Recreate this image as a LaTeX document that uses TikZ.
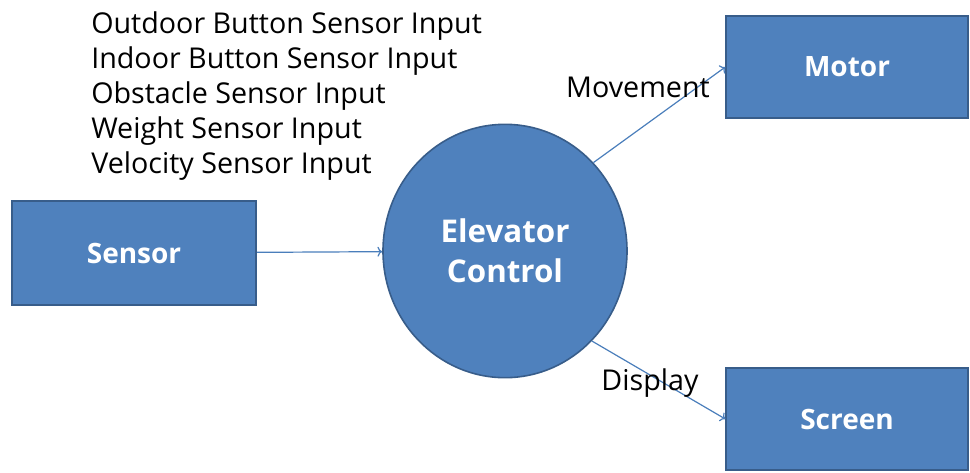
\documentclass[tikz,border=0pt]{standalone}
\usepackage{fontspec}
\setmainfont{Open Sans}
\usetikzlibrary{shapes.geometric, positioning, arrows.meta}
\usepackage{xcolor}
\definecolor{OfficeBlue}{HTML}{4F81BD}
\definecolor{OfficeBlueDark}{HTML}{385D8A}
\definecolor{OfficeLine}{HTML}{4A7EBB}

\tikzset{
  block/.style={rectangle, draw=OfficeBlueDark, line width=1.5pt, fill=OfficeBlue,
    text=white, font=\fontsize{21}{25}\selectfont\bfseries},
  flow/.style={->, OfficeLine, line width=0.9pt},
  flowlabel/.style={font=\fontsize{21.5}{25}\selectfont, text=black}
}

\begin{document}
\begin{tikzpicture}[x=0.75pt, y=-0.75pt]
  \useasboundingbox (0,0) rectangle (970,472);

  % Input list
  \node[anchor=north west, align=left, inner sep=0pt,
        font=\fontsize{21.5}{26.25}\selectfont] (inputs) at (91,11)
    {Outdoor Button Sensor Input\\
     Indoor Button Sensor Input\\
     Obstacle Sensor Input\\
     Weight Sensor Input\\
     Velocity Sensor Input};

  % Blocks
  \node[block, minimum width=183pt, minimum height=78pt] (sensor) at (134,253) {Sensor};
  \node[ellipse, draw=OfficeBlueDark, line width=1.2pt, fill=OfficeBlue, text=white,
        align=center, font=\fontsize{23.5}{30}\selectfont\bfseries,
        minimum width=183pt, minimum height=190pt, inner sep=0pt] (ctrl) at (505,251)
    {Elevator\\Control};
  \node[block, minimum width=181pt, minimum height=77pt] (motor) at (847,67) {Motor};
  \node[block, minimum width=181pt, minimum height=77pt] (screen) at (847,419) {Screen};

  % Data flows
  \draw[flow] (sensor) -- (ctrl);
  \draw[flow] (ctrl.45) -- (motor.west);
  \draw[flow] (ctrl.-46) -- (screen.west);

  % Flow labels
  \node[flowlabel] (movement) at (638,87) {Movement};
  \node[flowlabel] (display) at (650,383) {Display};
\end{tikzpicture}
\end{document}
